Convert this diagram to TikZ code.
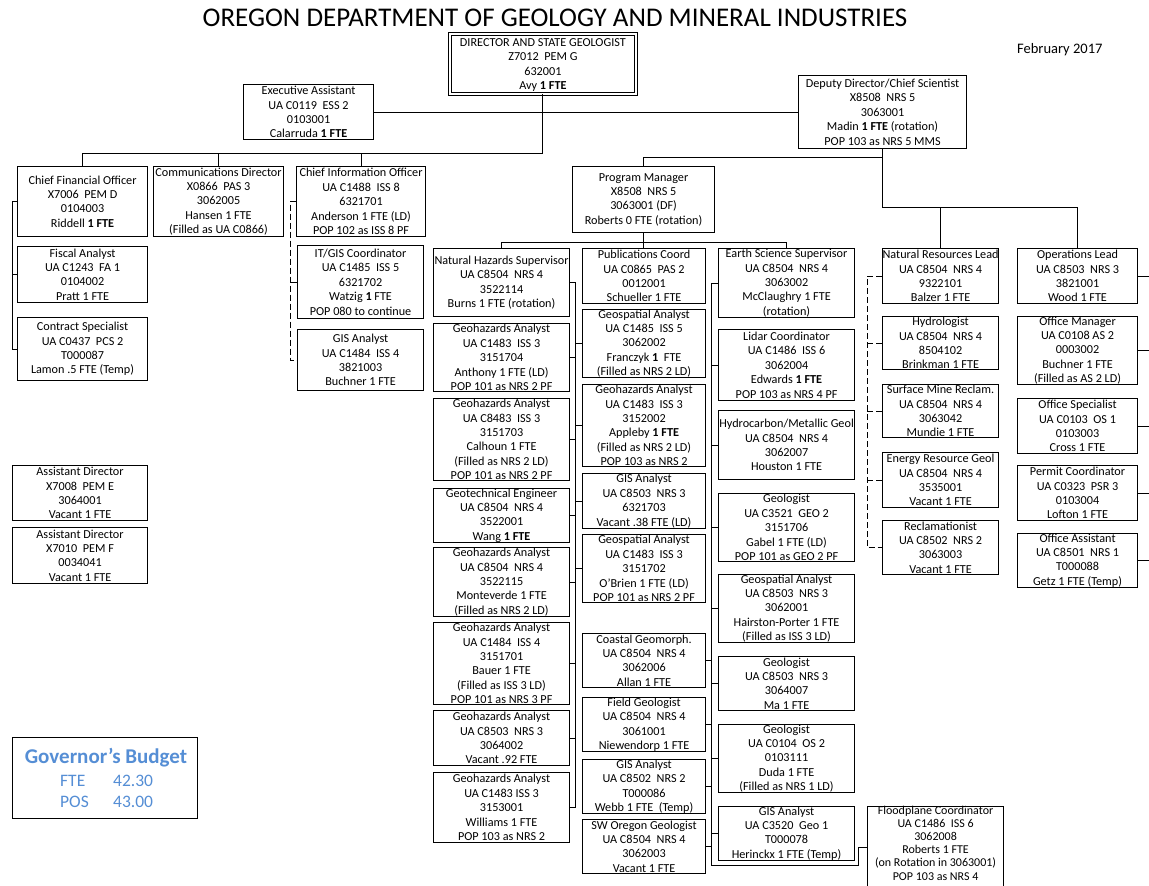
\documentclass[tikz,border=0pt]{standalone}
\usepackage{fontspec}
\setmainfont{Carlito}
\definecolor{gb}{RGB}{85,142,213}
\newcommand\ob[6]{\pgfmathsetmacro\obw{#4-#2}\pgfmathsetmacro\obh{#5-#3}%
  \node[bx,anchor=north west,minimum width=\obw pt,minimum height=\obh pt] (#1) at (#2,-#3) {#6};}
\newcommand\ds{\ \ }
\begin{document}
\begin{tikzpicture}[x=1pt,y=1pt,
  bx/.style={draw=black,line width=1.1pt,inner sep=0pt,align=center,fill=white,
    font=\fontsize{12.2}{14.4}\selectfont},
  ln/.style={line width=1pt,draw=black},
  dl/.style={ln,dash pattern=on 6pt off 3pt}]
\clip (0,0) rectangle (1149,-886);
\fill[white] (0,0) rectangle (1149,-886);

% titles
\node[font=\fontsize{27}{30}\selectfont,anchor=base,inner sep=0pt] (title) at (555,-26)
  {OREGON DEPARTMENT OF GEOLOGY AND MINERAL INDUSTRIES};
\node[font=\fontsize{14.5}{16}\selectfont,anchor=base west,inner sep=0pt] (date) at (1017,-53) {February 2017};

% director
\node[bx,double,double distance=1.8pt,line width=0.8pt,anchor=north west,
  minimum width=186pt,minimum height=60pt,text depth=0pt] (dir) at (449.5,-33.5)
  {DIRECTOR AND STATE GEOLOGIST\\Z7012\ds PEM G\\632001\\Avy \textbf{1 FTE}};

\ob{exec}{243}{84}{373}{139}{Executive Assistant\\UA C0119\ds ESS 2\\0103001\\Calarruda \textbf{1 FTE}}
\ob{dep}{798}{75}{966}{148}{Deputy Director/Chief Scientist\\X8508\ds NRS 5\\3063001\\Madin \textbf{1 FTE} (rotation)\\POP 103 as NRS 5 MMS}

\ob{cfo}{17}{166}{147}{236}{Chief Financial Officer\\X7006\ds PEM D\\0104003\\Riddell \textbf{1 FTE}}
\ob{comms}{153}{166}{283}{236}{Communications Director\\X0866\ds PAS 3\\3062005\\Hansen 1 FTE\\(Filled as UA C0866)}
\ob{cio}{296}{166}{425}{236}{Chief Information Officer\\UA C1488\ds ISS 8\\6321701\\Anderson 1 FTE (LD)\\POP 102 as ISS 8 PF}
\ob{pm}{572}{166}{714}{232}{Program Manager\\X8508\ds NRS 5\\3063001 (DF)\\Roberts 0 FTE (rotation)}

\ob{fiscal}{17}{246}{147}{302}{Fiscal Analyst\\UA C1243\ds FA 1\\0104002\\Pratt 1 FTE}
\ob{contract}{17}{317}{147}{380}{Contract Specialist\\UA C0437\ds PCS 2\\T000087\\Lamon .5 FTE (Temp)}
\ob{itgis}{297}{245}{423}{318}{IT/GIS Coordinator\\UA C1485\ds ISS 5\\6321702\\Watzig \textbf{1} FTE\\POP 080 to continue}
\ob{gisl}{297}{329}{423}{390}{GIS Analyst\\UA C1484\ds ISS 4\\3821003\\Buchner 1 FTE}
\ob{ad1}{12}{465}{147}{520}{Assistant Director\\X7008\ds PEM E\\3064001\\Vacant 1 FTE}
\ob{ad2}{12}{527}{147}{583}{Assistant Director\\X7010\ds PEM F\\0034041\\Vacant 1 FTE}

% column A
\ob{nhs}{433}{248}{569}{316}{Natural Hazards Supervisor\\UA C8504\ds NRS 4\\3522114\\Burns 1 FTE (rotation)}
\ob{anth}{433}{323}{569}{391}{Geohazards Analyst\\UA C1483\ds ISS 3\\3151704\\Anthony 1 FTE (LD)\\POP 101 as NRS 2 PF}
\ob{calh}{433}{398}{569}{480}{Geohazards Analyst\\UA C8483\ds ISS 3\\3151703\\Calhoun 1 FTE\\(Filled as NRS 2 LD)\\POP 101 as NRS 2 PF}
\ob{geot}{433}{488}{569}{541}{Geotechnical Engineer\\UA C8504\ds NRS 4\\3522001\\Wang \textbf{1 FTE}}
\ob{mont}{433}{547}{569}{616}{Geohazards Analyst\\UA C8504\ds NRS 4\\3522115\\Monteverde 1 FTE\\(Filled as NRS 2 LD)}
\ob{bauer}{433}{622}{569}{704}{Geohazards Analyst\\UA C1484\ds ISS 4\\3151701\\Bauer 1 FTE\\(Filled as ISS 3 LD)\\POP 101 as NRS 3 PF}
\ob{vac}{433}{710}{569}{765}{Geohazards Analyst\\UA C8503\ds NRS 3\\3064002\\Vacant .92 FTE}
\ob{will}{433}{772}{569}{842}{Geohazards Analyst\\UA C1483 ISS 3\\3153001\\Williams 1 FTE\\POP 103 as NRS 2}

% column B
\ob{pub}{582}{248}{705}{303}{Publications Coord\\UA C0865\ds PAS 2\\0012001\\Schueller 1 FTE}
\ob{franc}{582}{309}{705}{377}{Geospatial Analyst\\UA C1485\ds ISS 5\\3062002\\Franczyk \textbf{1}\ds FTE\\(Filled as NRS 2 LD)}
\ob{apple}{582}{384}{705}{466}{Geohazards Analyst\\UA C1483\ds ISS 3\\3152002\\Appleby \textbf{1 FTE}\\(Filled as NRS 2 LD)\\POP 103 as NRS 2}
\ob{gisb}{582}{473}{705}{528}{GIS Analyst\\UA C8503\ds NRS 3\\6321703\\Vacant .38 FTE (LD)}
\ob{obr}{582}{534}{705}{602}{Geospatial Analyst\\UA C1483\ds ISS 3\\3151702\\O’Brien 1 FTE (LD)\\POP 101 as NRS 2 PF}
\ob{coast}{582}{633}{705}{687}{Coastal Geomorph.\\UA C8504\ds NRS 4\\3062006\\Allan 1 FTE}
\ob{field}{582}{697}{705}{751}{Field Geologist\\UA C8504\ds NRS 4\\3061001\\Niewendorp 1 FTE}
\ob{webb}{582}{759}{705}{813}{GIS Analyst\\UA C8502\ds NRS 2\\T000086\\Webb 1 FTE\ds (Temp)}
\ob{sw}{582}{819}{705}{873}{SW Oregon Geologist\\UA C8504\ds NRS 4\\3062003\\Vacant 1 FTE}

% column C
\ob{es}{718}{248}{854}{317}{Earth Science Supervisor\\UA C8504\ds NRS 4\\3063002\\McClaughry 1 FTE\\(rotation)}
\ob{lidar}{718}{329}{854}{400}{Lidar Coordinator\\UA C1486\ds ISS 6\\3062004\\Edwards \textbf{1 FTE}\\POP 103 as NRS 4 PF}
\ob{hydro}{718}{410}{854}{479}{Hydrocarbon/Metallic Geol\\UA C8504\ds NRS 4\\3062007\\Houston 1 FTE}
\ob{gabel}{718}{493}{854}{561}{Geologist\\UA C3521\ds GEO 2\\3151706\\Gabel 1 FTE (LD)\\POP 101 as GEO 2 PF}
\ob{hair}{718}{574}{854}{642}{Geospatial Analyst\\UA C8503\ds NRS 3\\3062001\\Hairston-Porter 1 FTE\\(Filled as ISS 3 LD)}
\ob{ma}{718}{656}{854}{710}{Geologist\\UA C8503\ds NRS 3\\3064007\\Ma 1 FTE}
\ob{duda}{718}{724}{854}{792}{Geologist\\UA C0104\ds OS 2\\0103111\\Duda 1 FTE\\(Filled as NRS 1 LD)}
\ob{herin}{718}{806}{854}{859}{GIS Analyst\\UA C3520\ds Geo 1\\T000078\\Herinckx 1 FTE (Temp)}
\ob{flood}{867}{806}{1003}{895}{}
\node[font=\fontsize{12}{13.1}\selectfont,align=center,anchor=north,inner sep=0pt] (floodt) at (flood.north)
  {Floodplane Coordinator\\UA C1486\ds ISS 6\\3062008\\Roberts 1 FTE\\(on Rotation in 3063001)\\POP 103 as NRS 4};

% column D
\ob{nr}{882}{248}{998}{303}{Natural Resources Lead\\UA C8504\ds NRS 4\\9322101\\Balzer 1 FTE}
\ob{hyd}{882}{316}{998}{369}{Hydrologist\\UA C8504\ds NRS 4\\8504102\\Brinkman 1 FTE}
\ob{smr}{882}{384}{998}{437}{Surface Mine Reclam.\\UA C8504\ds NRS 4\\3063042\\Mundie 1 FTE}
\ob{energy}{882}{452}{998}{507}{Energy Resource Geol\\UA C8504\ds NRS 4\\3535001\\Vacant 1 FTE}
\ob{recl}{882}{520}{998}{574}{Reclamationist\\UA C8502\ds NRS 2\\3063003\\Vacant 1 FTE}

% column E
\ob{ops}{1017}{248}{1137}{303}{Operations Lead\\UA C8503\ds NRS 3\\3821001\\Wood 1 FTE}
\ob{om}{1017}{316}{1137}{384}{Office Manager\\UA C0108 AS 2\\0003002\\Buchner 1 FTE\\(Filled as AS 2 LD)}
\ob{os}{1017}{398}{1137}{453}{Office Specialist\\UA C0103\ds OS 1\\0103003\\Cross 1 FTE}
\ob{pc}{1017}{465}{1137}{520}{Permit Coordinator\\UA C0323\ds PSR 3\\0103004\\Lofton 1 FTE}
\ob{oa}{1017}{533}{1137}{587}{Office Assistant\\UA C8501\ds NRS 1\\T000088\\Getz 1 FTE (Temp)}

% governor's budget
\node[draw=black,line width=1.2pt,anchor=north west,minimum width=185pt,minimum height=81pt] (gov) at (12,-737) {};
\node[font=\bfseries\fontsize{21}{24}\selectfont,text=gb,anchor=base,inner sep=0pt] (govt) at (106,-763) {Governor’s Budget};
\begin{scope}[every node/.style={font=\fontsize{17.5}{20}\selectfont,text=gb,anchor=base west,inner sep=0pt}]
\node (fte) at (60,-786) {FTE};
\node (ftev) at (113,-786) {42.30};
\node (pos) at (60,-807) {POS};
\node (posv) at (113,-807) {43.00};
\end{scope}

% ---------- connectors ----------
\draw[ln] (exec.east) -- (dep.west);
\draw[ln] (dir.south) -- (dir.south |- 0,-153) coordinate (b1) -- (b1 -| cfo.north) -- (cfo.north);
\draw[ln] (b1 -| comms.north) -- (comms.north);
\draw[ln] (b1 -| cio.north) -- (cio.north);

\draw[ln] (dep.south) -- (dep.south |- 0,-207) coordinate (b2) -- (b2 -| ops.north) -- (ops.north);
\draw[ln] (b2 -| nr.north) -- (nr.north);
\draw[ln] (dep.south |- 0,-157) coordinate (b3) -- (b3 -| pm.north) -- (pm.north);

\draw[ln] (pm.south) -- (pm.south |- pub.north);
\coordinate (b4) at (0,-242);
\draw[ln] (nhs.north) -- (nhs.north |- b4) -- (b4 -| es.north) -- (es.north);

% CFO branch
\coordinate (sL) at (12,0);
\draw[ln] (cfo.west) -- (cfo.west -| sL) |- (contract.west);
\draw[ln] (fiscal.west -| sL) -- (fiscal.west);

% CIO branch (dashed)
\coordinate (sI) at (290,0);
\draw[dl] (cio.west) -- (cio.west -| sI) |- (gisl.west);
\draw[ln] (itgis.west -| sI) -- (itgis.west);

% Natural hazards spine
\coordinate (sA) at (575.5,0);
\draw[ln] (nhs.east) -- (nhs.east -| sA) |- (will.east);
\foreach \n in {anth,calh,geot,mont,bauer,vac}
  \draw[ln] (\n.east -| sA) -- (\n.east);
\foreach \n in {franc,apple,gisb,obr}
  \draw[ln] (\n.west -| sA) -- (\n.west);

% Earth science spine
\coordinate (sC) at (711.5,0);
\coordinate (fl) at (flood.west |- 0,-847);
\draw[ln] (es.west) -- (es.west -| sC) -- (sC |- 0,-865) -- (858,-865) -- (858,-847) -- (fl);
\foreach \n in {lidar,hydro,gabel,hair,ma,duda,herin}
  \draw[ln] (\n.west -| sC) -- (\n.west);
\foreach \n in {coast,field,webb,sw}
  \draw[ln] (\n.east -| sC) -- (\n.east);

% Natural resources spine (dashed)
\coordinate (sD) at (867,0);
\draw[dl] (nr.west) -- (nr.west -| sD) |- (recl.west);
\foreach \n in {hyd,smr,energy}
  \draw[dl] (\n.west -| sD) -- (\n.west);

% Operations stubs
\foreach \n in {ops,om,os,pc,oa}
  \draw[ln] (\n.east) -- ++(20,0);
\end{tikzpicture}
\end{document}
